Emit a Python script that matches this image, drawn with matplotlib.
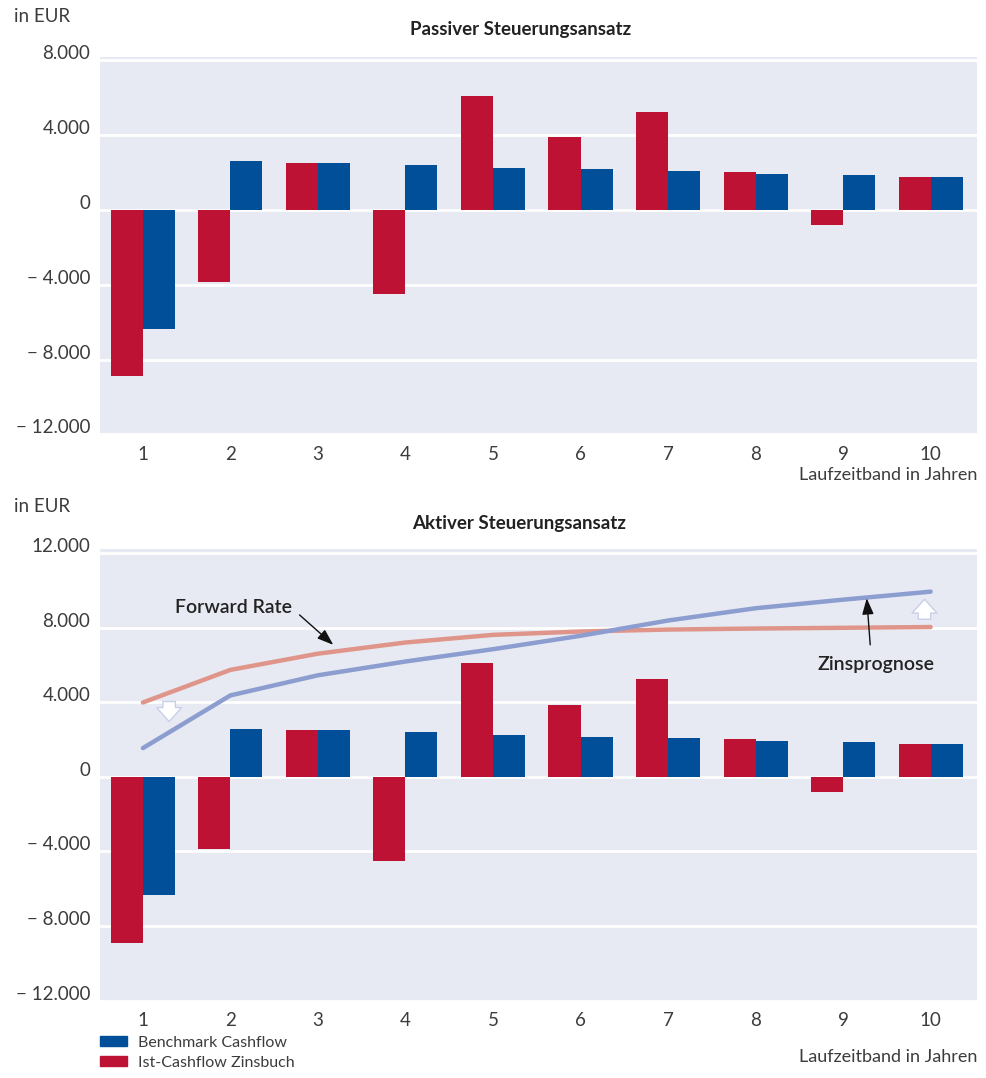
import matplotlib
matplotlib.use("Agg")
import matplotlib.pyplot as plt
from matplotlib.patches import Patch
from matplotlib.transforms import ScaledTranslation

plt.rcParams['font.family'] = ['Lato', 'DejaVu Sans']

# data
laufzeit = [1, 2, 3, 4, 5, 6, 7, 8, 9, 10]
ist_cf = [-8900, -3850, 2500, -4500, 6100, 3880, 5260, 2040, -820, 1760]
bench_cf = [-6350, 2600, 2500, 2400, 2270, 2170, 2100, 1950, 1880, 1760]
forward_rate = [4000, 5750, 6620, 7220, 7630, 7810, 7915, 7970, 8010, 8050]
zinsprognose = [1550, 4380, 5460, 6200, 6860, 7580, 8400, 9060, 9520, 9950]
yticks_top = [-12000, -8000, -4000, 0, 4000, 8000]
yticks_bottom = [-12000, -8000, -4000, 0, 4000, 8000, 12000]
ylabels = {-12000: '\u2212 12.000', -8000: '\u2212 8.000', -4000: '\u2212 4.000',
           0: '0', 4000: '4.000', 8000: '8.000', 12000: '12.000'}

red = '#BE1234'
blue = '#004F98'
bg = '#E8EAF3'
txt = '#3c3c3c'
W, H = 986, 1078

fig = plt.figure(figsize=(W / 100, H / 100), dpi=100)
ax1 = fig.add_axes([100 / W, 1 - 435 / H, 877 / W, 378 / H])
ax2 = fig.add_axes([100 / W, 1 - 1000.7 / H, 877 / W, 451.7 / H])

bw = 0.366

def base(ax, ticks, ylim):
    ax.set_facecolor(bg)
    for s in ax.spines.values():
        s.set_visible(False)
    ax.bar([x - bw / 2 for x in laufzeit], ist_cf, width=bw, color=red, zorder=3)
    ax.bar([x + bw / 2 for x in laufzeit], bench_cf, width=bw, color=blue, zorder=3)
    ax.set_xlim(0.51, 10.53)
    ax.set_ylim(*ylim)
    ax.set_yticks(ticks)
    ax.set_yticklabels([ylabels[t] for t in ticks])
    ax.set_xticks(laufzeit)
    ax.set_xticklabels([str(x) for x in laufzeit])
    ax.tick_params(axis='y', length=0, pad=7, labelsize=13.5, labelcolor=txt)
    ax.tick_params(axis='x', length=0, pad=8, labelsize=13.5, labelcolor=txt)
    for lab in ax.get_yticklabels():
        lab.set_transform(lab.get_transform() + ScaledTranslation(0, 8 / 100, fig.dpi_scale_trans))
    ax.grid(axis='y', color='white', lw=2, zorder=1)
    ax.grid(axis='x', visible=False)
    ax.set_axisbelow(True)

base(ax1, yticks_top, (-12030, 8180))
base(ax2, yticks_bottom, (-12010, 12240))

# lines in lower chart
ax2.plot(laufzeit, forward_rate, color='#E0958A', lw=3.2, solid_capstyle='round',
         solid_joinstyle='round', zorder=4)
ax2.plot(laufzeit, zinsprognose, color='#8C9DCF', lw=3.2, solid_capstyle='round',
         solid_joinstyle='round', zorder=4)

ax2.text(2.04, 9115, 'Forward Rate', ha='center', va='center', fontsize=14,
         fontweight='semibold', color='#222222', zorder=5)
ax2.annotate('', xy=(3.175, 7095), xytext=(2.79, 8700),
             arrowprops=dict(arrowstyle='-|>,head_length=0.7,head_width=0.25', color='#111111',
                             lw=1, shrinkA=0, shrinkB=0, mutation_scale=14), zorder=5)
ax2.text(9.38, 6020, 'Zinsprognose', ha='center', va='center', fontsize=14,
         fontweight='semibold', color='#222222', zorder=5)
ax2.annotate('', xy=(9.27, 9600), xytext=(9.31, 7095),
             arrowprops=dict(arrowstyle='-|>,head_length=0.7,head_width=0.25', color='#111111',
                             lw=1, shrinkA=0, shrinkB=0, mutation_scale=14), zorder=5)

# white hint arrows
hint = dict(arrowstyle='simple,head_length=0.5,head_width=0.9,tail_width=0.45',
            fc='white', ec='#c9cfea', lw=1, shrinkA=0, shrinkB=0, mutation_scale=20)
ax2.annotate('', xy=(1.30, 2980), xytext=(1.30, 4054), arrowprops=hint, zorder=5)
ax2.annotate('', xy=(9.93, 9545), xytext=(9.93, 8470), arrowprops=hint, zorder=5)

# texts
fig.text(14 / W, 1 - 17 / H, 'in EUR', ha='left', va='center', fontsize=13.5, color=txt)
fig.text(14 / W, 1 - 507 / H, 'in EUR', ha='left', va='center', fontsize=13.5, color=txt)
fig.text(521 / W, 1 - 30 / H, 'Passiver Steuerungsansatz', ha='center', va='center',
         fontsize=13.5, fontweight='bold', color='#222222')
fig.text(519 / W, 1 - 523 / H, 'Aktiver Steuerungsansatz', ha='center', va='center',
         fontsize=13.5, fontweight='bold', color='#222222')
fig.text(977 / W, 1 - 475 / H, 'Laufzeitband in Jahren', ha='right', va='center',
         fontsize=13, color=txt)
fig.text(977 / W, 1 - 1057 / H, 'Laufzeitband in Jahren', ha='right', va='center',
         fontsize=13, color=txt)

handles = [Patch(color=blue), Patch(color=red)]
fig.legend(handles, ['Benchmark Cashflow', 'Ist-Cashflow Zinsbuch'], loc='upper left',
           bbox_to_anchor=(100 / W, 1 - 1036 / H), frameon=False,
           handlelength=1.7, handleheight=0.6, handletextpad=0.7, labelspacing=0.35,
           borderpad=0, borderaxespad=0, labelcolor=txt, prop={'size': 11.5})

fig.savefig('out.png', dpi=100)
